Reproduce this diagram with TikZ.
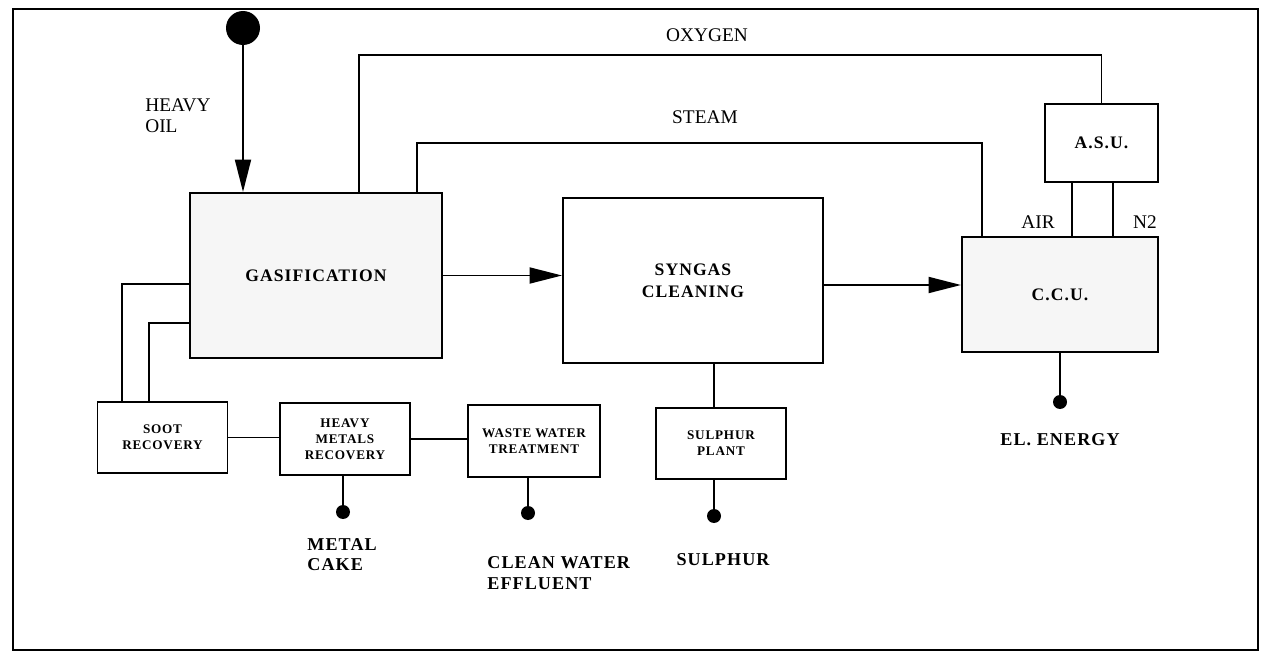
\documentclass[tikz,border=0pt]{standalone}
\usepackage{fontspec}
\setmainfont{Liberation Serif}
\newfontfamily\boxfont[LetterSpace=6]{Liberation Serif}
\usetikzlibrary{arrows.meta, positioning}

\begin{document}
\begin{tikzpicture}[
    unit/.style={rectangle, draw, line width=1.1pt, align=center, font=\boxfont\bfseries\fontsize{10}{12.5}\selectfont},
    bigunit/.style={unit, fill=gray!7},
    subunit/.style={unit, minimum width=2.6cm, minimum height=1.43cm, font=\boxfont\bfseries\fontsize{7.5}{9}\selectfont},
    product/.style={circle, fill, inner sep=0pt, minimum size=0.28cm},
    feed/.style={circle, fill, inner sep=0pt, minimum size=0.68cm},
    outlbl/.style={align=left, inner sep=0pt, font=\boxfont\bfseries\fontsize{10.3}{11.5}\selectfont},
    flowlbl/.style={align=left, inner sep=0pt, font=\fontsize{11}{12}\selectfont},
    pipe/.style={line width=1.1pt},
    arrow/.style={-{Triangle[length=6.5mm, width=3.2mm]}, line width=1.1pt}
]
\useasboundingbox (0,0) rectangle (25.3,13.18);

% Frame
\draw[line width=1.2pt] (0.26,0.18) rectangle (25.16,13.0);

% Main units
\node[bigunit, minimum width=5.04cm, minimum height=3.3cm] (gasif) at (6.32,7.67) {GASIFICATION};
\node[unit, minimum width=5.2cm, minimum height=3.3cm] (syngas) at (13.86,7.57) {SYNGAS\\CLEANING};
\node[bigunit, minimum width=3.92cm, minimum height=2.3cm] (ccu) at (21.2,7.29) {C.C.U.};
\node[unit, minimum width=2.26cm, minimum height=1.56cm] (asu) at (22.03,10.32) {A.S.U.};

% Feed
\node[feed] (oil) at (4.86,12.62) {};
\node[flowlbl, anchor=west] (oillbl) at (2.9,10.86) {HEAVY\\OIL};
\draw[arrow] (oil) -- (oil |- gasif.north);

% Main line
\draw[arrow] (gasif.east) -- (gasif.east -| syngas.west);
\draw[arrow] ([yshift=-0.09cm]syngas.east) -- ([yshift=-0.09cm]syngas.east -| ccu.west);

% Oxygen and steam
\coordinate (oxy) at (7.18,12.08);
\coordinate (stm) at (8.34,10.32);
\coordinate (stmr) at (19.64,10.32);
\draw[pipe] (gasif.north -| oxy) -- (oxy) -| (asu.north);
\draw[pipe] (gasif.north -| stm) -- (stm) -- (stmr) -- (stmr |- ccu.north);
\node[flowlbl] (oxylbl) at (14.14,12.48) {OXYGEN};
\node[flowlbl] (stmlbl) at (14.1,10.84) {STEAM};

% Air separation
\draw[pipe] ([xshift=-0.59cm]asu.south) -- ([xshift=-0.59cm]asu.south |- ccu.north);
\draw[pipe] ([xshift=0.23cm]asu.south) -- ([xshift=0.23cm]asu.south |- ccu.north);
\node[flowlbl] (airlbl) at (20.76,8.74) {AIR};
\node[flowlbl] (n2lbl) at (22.9,8.74) {N2};

% Power
\node[product] (eldot) at (21.2,5.14) {};
\draw[pipe] (ccu.south) -- (eldot);
\node[outlbl] (ellbl) at (21.2,4.38) {EL. ENERGY};

% Soot and water units
\node[subunit] (soot) at (3.25,4.43) {SOOT\\RECOVERY};
\node[subunit] (metals) at (6.9,4.4) {HEAVY\\METALS\\RECOVERY};
\node[subunit, minimum width=2.64cm] (water) at (10.68,4.36) {WASTE WATER\\TREATMENT};
\draw[pipe] ([yshift=-0.17cm]gasif.west) -| ([xshift=-0.81cm]soot.north);
\draw[pipe] ([yshift=-0.95cm]gasif.west) -| ([xshift=-0.27cm]soot.north);
\draw[pipe] (soot.east) -- (soot.east -| metals.west);
\draw[pipe] (metals.east) -- (metals.east -| water.west);

\node[product] (cakedot) at (6.86,2.94) {};
\draw[pipe] (metals.south -| cakedot) -- (cakedot);
\node[outlbl, anchor=west] (cakelbl) at (6.14,2.08) {METAL\\CAKE};

\node[product] (waterdot) at (10.56,2.92) {};
\draw[pipe] (water.south -| waterdot) -- (waterdot);
\node[outlbl, anchor=west] (waterlbl) at (9.74,1.72) {CLEAN WATER\\EFFLUENT};

% Sulphur
\node[subunit] (sulphur) at (14.42,4.31) {SULPHUR\\PLANT};
\node[product] (sdot) at (14.28,2.86) {};
\draw[pipe] (syngas.south -| sdot) -- (sulphur.north -| sdot);
\draw[pipe] (sulphur.south -| sdot) -- (sdot);
\node[outlbl] (slbl) at (14.46,1.98) {SULPHUR};

\end{tikzpicture}
\end{document}
